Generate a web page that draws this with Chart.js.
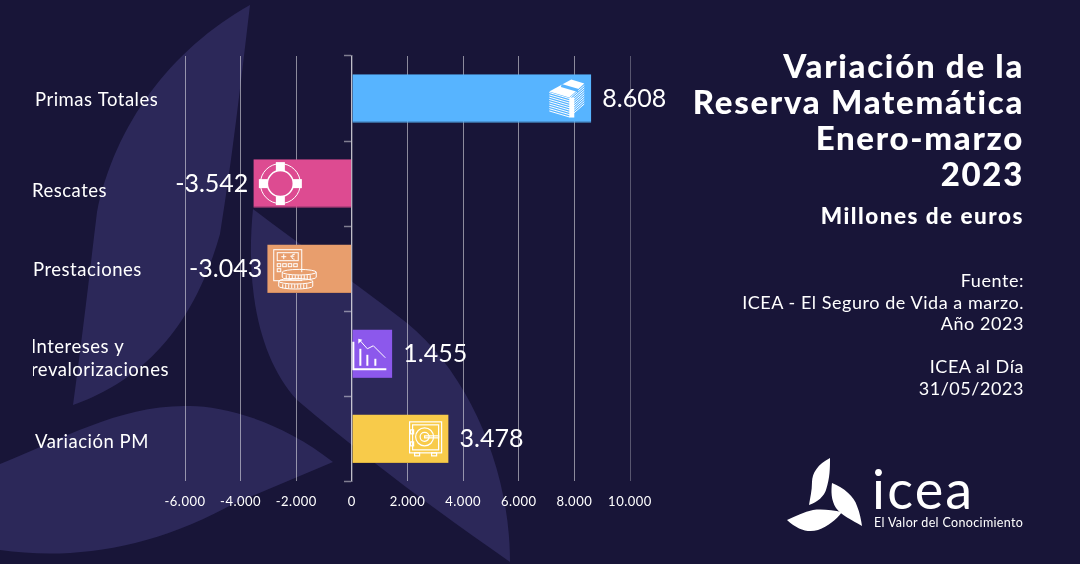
<!DOCTYPE html>
<html lang="es">
<head>
<meta charset="utf-8">
<title>Variación de la Reserva Matemática</title>
<script src="https://cdn.jsdelivr.net/npm/chart.js@4"></script>
<style>
  html, body { margin: 0; padding: 0; background: #181538; }
  #page { position: relative; width: 1080px; height: 564px; overflow: hidden; background: #181538; font-family: Lato, sans-serif; color: #fff; }
  #leaves, #chart { position: absolute; left: 0; top: 0; }
  .side { position: absolute; right: 56px; text-align: right; white-space: nowrap; }
  #title { top: 47px; font-size: 33px; line-height: 36px; font-weight: 900; letter-spacing: 1.7px; }
  #unit { top: 203px; font-size: 22.5px; line-height: 26px; font-weight: 900; letter-spacing: 1.5px; }
  #source { top: 270px; font-size: 18px; line-height: 21.5px; letter-spacing: .55px; }
  #logoMark { position: absolute; left: 786px; top: 458px; }
  #logoName { position: absolute; left: 872px; top: 459px; font-size: 54px; line-height: 60px; font-weight: 400; letter-spacing: 2.2px; }
  #logoTag { position: absolute; left: 874px; top: 515px; font-size: 12.5px; line-height: 15px; letter-spacing: .35px; }
</style>
</head>
<body>
<div id="page">
  <svg id="leaves" width="1080" height="564" fill="#2c2859">
    <path d="M250 5C170 50 115 125 97 212C90 270 82 340 73 405C130 385 190 340 220 234C232 160 240 90 250 5Z"/>
    <path d="M253 209C300 245 345 275 407 323C470 375 510 470 510 562C450 520 380 470 297 400C260 360 245 290 253 209Z"/>
    <path d="M333 462C280 420 220 405 187 406C120 405 60 440 0 464L0 550C70 560 150 550 233 504Z"/>
  </svg>
  <canvas id="chart" width="1080" height="564"></canvas>
  <div class="side" id="title">Variación de la<br>Reserva Matemática<br>Enero-marzo<br>2023</div>
  <div class="side" id="unit">Millones de euros</div>
  <div class="side" id="source">Fuente:<br>ICEA - El Seguro de Vida a marzo.<br>Año 2023<br><br>ICEA al Día<br>31/05/2023</div>
  <svg id="logoMark" width="82" height="78" fill="#fff">
    <path d="M44 0C32 6 26 15 26 24C26 33 24 40 23 47C32 44 38 38 40 32C44 20 44 10 44 0Z"/>
    <path d="M46 25C58 30 68 38 71 48C74 55 75 62 76 68C66 62 55 57 50 50C45 42 45 33 46 25Z"/>
    <path d="M1 62C10 58 18 54 27 52C36 51 46 52 56 54C50 62 42 68 32 72C22 75 12 72 1 62Z"/>
  </svg>
  <div id="logoName">icea</div>
  <div id="logoTag">El Valor del Conocimiento</div>
</div>

<script>
const categories = ['Primas Totales', 'Rescates', 'Prestaciones', ['Intereses y', 'revalorizaciones'], 'Variación PM'];
const reserveValues = [8608, -3542, -3043, 1455, 3478];
const barColors = ['#57b4ff', '#dd4b91', '#e89e6d', '#8c58ec', '#f8cb4a'];
const barEdges = ['#4f9fe0', '#bf4282', '#d08c60', '#7c4ed2', '#dcb342'];
const xTicks = [-6000, -4000, -2000, 0, 2000, 4000, 6000, 8000, 10000];
const iconNames = ['money', 'ring', 'calc', 'trend', 'safe'];

// small shifts of the category labels, the original ones are placed by hand
const labelShiftX = [2, -1, 0, -2, 2];
const labelShiftY = [1.5, 7, 1, 5, 3];

// thousands with a dot, es-ES does not group 4 digit numbers by itself
const fmt = v => String(v).replace(/\B(?=(\d{3})+$)/, '.');

const icons = {
  money(c) {
    c.fillStyle = '#fff';
    c.beginPath(); c.moveTo(-18, -7); c.lineTo(4, -19); c.lineTo(17, -15); c.lineTo(2, -1); c.closePath(); c.fill();
    c.lineWidth = 1;
    for (let i = 0; i < 9; i++) {
      const d = i * 2.3;
      c.beginPath(); c.moveTo(-18, -6 + d); c.lineTo(2, 0 + d); c.lineTo(17, -13 + d); c.stroke();
    }
    c.fillRect(2, -1, 5, 20);
    c.strokeStyle = '#57b4ff'; c.lineWidth = 3;
    c.beginPath(); c.moveTo(-6, -13); c.lineTo(11, -8); c.stroke();
  },
  ring(c) {
    c.lineWidth = 1;
    c.beginPath(); c.arc(0, 0, 20, 0, Math.PI * 2); c.stroke();
    c.lineWidth = 1.5;
    c.beginPath(); c.arc(0, 0, 13, 0, Math.PI * 2); c.stroke();
    c.fillStyle = '#fff';
    for (let i = 0; i < 4; i++) {
      c.save(); c.rotate(i * Math.PI / 2);
      c.fillRect(-4.5, -21.5, 9, 9);
      c.restore();
    }
  },
  calc(c, color) {
    c.lineWidth = 1;
    c.strokeRect(-20.5, -19, 28, 31);
    c.strokeRect(-17, -16, 21, 8);
    c.beginPath();
    c.moveTo(-13, -12); c.lineTo(-8, -12); c.moveTo(-10.5, -14.5); c.lineTo(-10.5, -9.5);
    c.moveTo(0, -14.5); c.arc(0, -12, 2.5, -1.4, -4.9, true);
    c.moveTo(-4, -12.5); c.lineTo(0, -12.5);
    c.stroke();
    for (let i = 0; i < 4; i++) c.strokeRect(-17 + i * 5.5, -5, 3.5, 3);
    c.strokeRect(-17, 0, 3.5, 3);
    [[5, 3.5], [1.5, 12.5]].forEach(([x, y]) => {
      c.fillStyle = color;
      c.beginPath(); c.ellipse(x, y + 5, 17, 2.8, 0, 0, Math.PI * 2); c.fill(); c.stroke();
      c.fillRect(x - 17, y, 34, 5);
      c.beginPath(); c.moveTo(x - 17, y); c.lineTo(x - 17, y + 5); c.moveTo(x + 17, y); c.lineTo(x + 17, y + 5); c.stroke();
      c.beginPath(); c.ellipse(x, y, 17, 2.8, 0, 0, Math.PI * 2); c.stroke();
      for (let i = -13; i <= 13; i += 3) {
        c.beginPath(); c.moveTo(x + i, y + 3); c.lineTo(x + i, y + 7); c.stroke();
      }
    });
  },
  trend(c) {
    c.lineWidth = 2;
    c.beginPath(); c.moveTo(-15, -12); c.lineTo(-15, 15.5); c.lineTo(18, 15.5); c.stroke();
    [[-8, -5], [-1, 1], [7, 5]].forEach(([x, y]) => {
      c.beginPath(); c.moveTo(x, y); c.lineTo(x, 12); c.stroke();
    });
    c.lineWidth = 1;
    c.beginPath(); c.moveTo(-9, -14); c.lineTo(-1, -5); c.lineTo(5, -8); c.lineTo(17, 4); c.stroke();
    c.beginPath(); c.moveTo(-10, -15); c.lineTo(-10, -10); c.lineTo(-6, -14); c.closePath(); c.fill();
  },
  safe(c) {
    c.lineWidth = 1.2;
    c.strokeRect(-15, -17, 32, 31);
    c.strokeRect(-12, -14, 26, 25);
    c.beginPath(); c.arc(0, -2, 9, 0, Math.PI * 2); c.stroke();
    c.beginPath(); c.arc(0, -2, 4.5, 0, Math.PI * 2); c.stroke();
    c.strokeRect(0, -3, 14, 2);
    c.strokeRect(-14, -9, 3, 4); c.strokeRect(-14, 3, 3, 4);
    c.strokeRect(-10, 14, 5, 3); c.strokeRect(7, 14, 5, 3);
  }
};

// value text and pictogram next to the end of each bar
const barExtras = {
  id: 'barExtras',
  afterDatasetsDraw(chart) {
    const c = chart.ctx;
    chart.getDatasetMeta(0).data.forEach((bar, i) => {
      const neg = reserveValues[i] < 0;
      c.save();
      c.translate(bar.x + (neg ? 27 : -24), bar.y);
      c.strokeStyle = '#fff';
      c.fillStyle = '#fff';
      icons[iconNames[i]](c, barColors[i]);
      c.restore();
      c.save();
      c.letterSpacing = '0px';
      c.fillStyle = '#fff';
      c.font = '25px Lato';
      c.textBaseline = 'middle';
      c.textAlign = neg ? 'right' : 'left';
      c.fillText(fmt(reserveValues[i]), bar.x + (neg ? -5 : 11), bar.y);
      c.restore();
    });
  }
};

const labelNudge = {
  id: 'labelNudge',
  beforeDraw(chart) {
    chart.ctx.letterSpacing = '.5px';
  },
  afterUpdate(chart) {
    chart.scales.y.getLabelItems().forEach((item, i) => {
      const t = item.options.translation;
      t[0] += labelShiftX[i];
      t[1] += labelShiftY[i];
    });
  }
};

new Chart(document.getElementById('chart'), {
  type: 'bar',
  data: {
    labels: categories,
    datasets: [{
      data: reserveValues,
      backgroundColor: barColors,
      borderColor: barEdges,
      borderWidth: { top: 0, right: 0, bottom: 1, left: 0 },
      categoryPercentage: 1,
      barPercentage: 0.57
    }]
  },
  plugins: [barExtras, labelNudge],
  options: {
    indexAxis: 'y',
    responsive: false,
    animation: false,
    layout: { padding: { left: 33, right: 450, top: 56, bottom: 41 } },
    plugins: { legend: { display: false }, tooltip: { enabled: false } },
    scales: {
      x: {
        min: -6000,
        max: 10000,
        afterBuildTicks: scale => { scale.ticks = xTicks.map(value => ({ value })); },
        border: { display: false },
        grid: {
          drawTicks: false,
          color: ctx => ctx.tick && ctx.tick.value === 10000 ? 'rgba(255,255,255,.28)' : 'rgba(255,255,255,.5)'
        },
        ticks: { color: '#fff', font: { family: 'Lato', size: 13 }, padding: 13, maxRotation: 0, callback: v => fmt(v) }
      },
      y: {
        afterFit: scale => { scale.width = 152; },
        border: { display: false },
        grid: { display: false },
        ticks: { color: '#fff', crossAlign: 'far', autoSkip: false, font: { family: 'Lato', size: 18.5, lineHeight: 1.22 } }
      },
      zeroAxis: {
        type: 'category',
        axis: 'y',
        labels: categories,
        position: { x: 0 },
        border: { display: true, color: 'rgba(255,255,255,.45)', width: 1.5 },
        grid: { drawOnChartArea: false, drawTicks: true, tickLength: 7, tickWidth: 1.5, color: 'rgba(255,255,255,.45)' },
        ticks: { display: false }
      }
    }
  }
});
</script>
</body>
</html>
